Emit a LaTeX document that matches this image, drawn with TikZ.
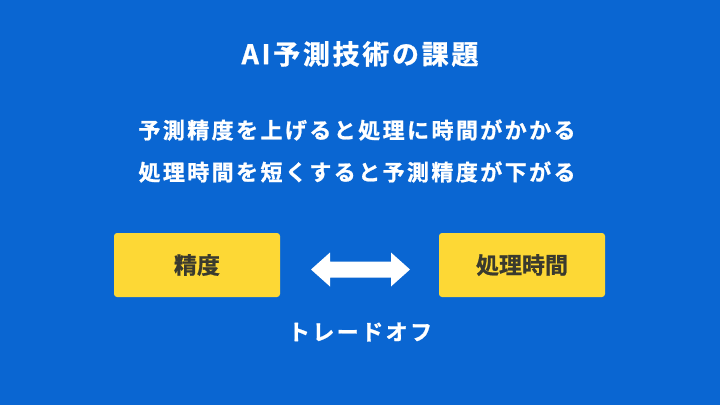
\documentclass[tikz,border=0pt]{standalone}
\usepackage{fontspec}
\setmainfont{Noto Sans CJK JP}[BoldFont={Noto Sans CJK JP Bold},BoldFeatures={FakeBold=1}]
\newfontfamily\jpwide{Noto Sans CJK JP Bold}[LetterSpace=11,FakeBold=1]
\newfontfamily\jptitle{Noto Sans CJK JP Bold}[LetterSpace=10,FakeBold=1]
\definecolor{bgblue}{HTML}{0A66D2}
\definecolor{boxyellow}{HTML}{FDD835}
\definecolor{boxtext}{HTML}{3A3A2E}
\begin{document}
\begin{tikzpicture}[x=1pt,y=-1pt,
  ybox/.style={fill=boxyellow,rounded corners=3pt,minimum width=166pt,minimum height=64pt,inner sep=0pt,
    text=boxtext,font=\bfseries\fontsize{23}{27}\selectfont},
  wtext/.style={text=white,inner sep=0pt,anchor=center}]
\fill[bgblue] (0,0) rectangle (720,405);
\useasboundingbox (0,0) rectangle (720,405);
\node[wtext,font=\jptitle\fontsize{27}{32}\selectfont] (title) at (360,54) {AI予測技術の課題};
\node[wtext,font=\jpwide\fontsize{22}{26}\selectfont] (l1) at (357,130) {予測精度を上げると処理に時間がかかる};
\node[wtext,font=\jpwide\fontsize{22}{26}\selectfont] (l2) at (357,172) {処理時間を短くすると予測精度が下がる};
\node[ybox] (acc) at (197,265) {精度};
\node[ybox] (time) at (522,265) {処理時間};
\node[wtext,font=\jpwide\fontsize{22}{26}\selectfont] (to) at (360,332) {トレードオフ};
\coordinate (al) at (311,269.5);
\coordinate (ar) at (410,269.5);
\fill[white] (al) -- ++(19,-17) -- ++(0,9) -- ++(61,0) -- ++(0,-9) -- (ar) -- ++(-19,17) -- ++(0,-9) -- ++(-61,0) -- ++(0,9) -- cycle;
\end{tikzpicture}
\end{document}
